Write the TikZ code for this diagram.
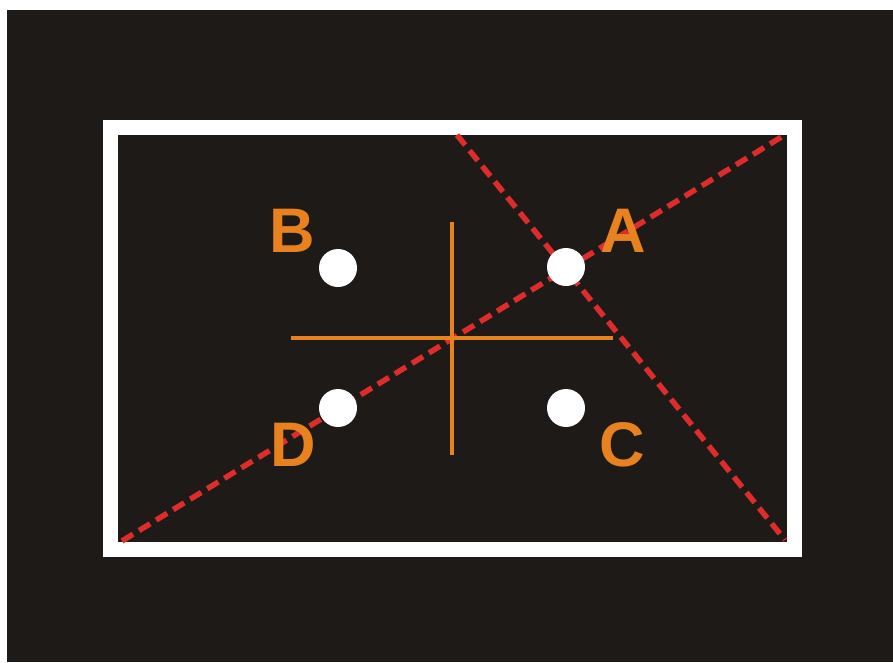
\documentclass[tikz,border=0pt]{standalone}
\usepackage{fontspec}
\setmainfont{Liberation Sans}
\definecolor{bgdark}{HTML}{1E1A17}
\definecolor{orangec}{HTML}{E8821E}
\definecolor{redd}{HTML}{DE2B2B}
\begin{document}
\begin{tikzpicture}[x=1pt,y=-1pt,
  dot/.style={circle,fill=white,draw=none,minimum size=38pt,inner sep=0pt},
  lbl/.style={text=orangec,font=\bfseries\fontsize{63}{63}\selectfont,inner sep=0pt,anchor=center},
  redline/.style={draw=redd,line width=5.5pt,dash pattern=on 13pt off 7pt},
  crossline/.style={draw=orangec,line width=4.5pt},
  framebox/.style={draw=white,line width=15pt}]
\useasboundingbox (0,0) rectangle (893,662);
\fill[white] (0,0) rectangle (893,662);
\fill[bgdark] (7,10) rectangle (893,662);
\draw[framebox] (110.5,127) rectangle (794.5,549.5);
% dashed lines
\coordinate (l1s) at (122,541);
\coordinate (l1e) at (783,136);
\coordinate (l2s) at (457,135);
\coordinate (l2e) at (785,540);
\draw[redline] (l1s) -- (l1e);
\draw[redline] (l2s) -- (l2e);
% cross
\coordinate (hl) at (291,338);
\coordinate (hr) at (613,338);
\coordinate (vt) at (452,222);
\coordinate (vb) at (452,455);
\draw[crossline] (hl) -- (hr);
\draw[crossline] (vt) -- (vb);
% dots
\node[dot] (dB) at (338,268) {};
\node[dot] (dA) at (566,267) {};
\node[dot] (dD) at (338,408) {};
\node[dot] (dC) at (566,408) {};
% labels
\node[lbl] (tB) at (292,231) {B};
\node[lbl] (tA) at (623,231) {A};
\node[lbl] (tD) at (293,445) {D};
\node[lbl] (tC) at (622,445) {C};
\end{tikzpicture}
\end{document}
